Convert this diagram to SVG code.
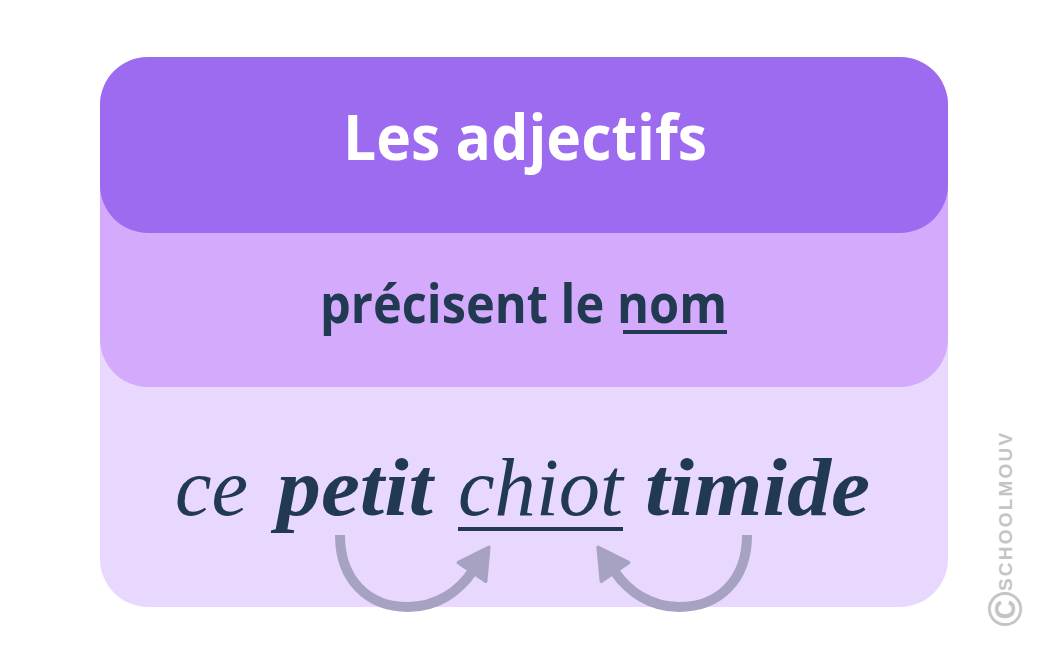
<svg xmlns="http://www.w3.org/2000/svg" width="1051" height="663" viewBox="0 0 1051 663">
<style>
.navy{fill:#213A52}
.title{font-family:"Open Sans","Liberation Sans",sans-serif;font-weight:700;font-size:62px;fill:#FFFFFF}
.sub{font-family:"Open Sans","Liberation Sans",sans-serif;font-weight:700;font-size:54px;fill:#213A52}
.script{font-family:"Liberation Serif","DejaVu Serif",serif;font-style:italic;font-size:82px;fill:#213A52}
.bold{font-weight:700}
.arrow{fill:none;stroke:#A7A2C1;stroke-width:10}
.wm{font-family:"Liberation Sans",Arial,sans-serif;font-weight:700;fill:#C4C4C4}
</style>
<defs>
<marker id="head" markerUnits="userSpaceOnUse" markerWidth="40" markerHeight="40" viewBox="-2 -18 34 36" refX="0" refY="0" orient="auto">
<path d="M0,-15 L27,0 L0,15 z" fill="#A7A2C1" stroke="#A7A2C1" stroke-width="3" stroke-linejoin="round"/>
</marker>
</defs>
<rect width="1051" height="663" fill="#FFFFFF"/>
<g id="box-bottom">
<rect x="100" y="57" width="848" height="550" rx="48" ry="48" fill="#E8D8FE"/>
</g>
<g id="box-middle">
<rect x="100" y="57" width="848" height="330" rx="48" ry="48" fill="#D4AAFC"/>
<text class="sub" x="320" y="323" textLength="407" lengthAdjust="spacingAndGlyphs">précisent le nom</text>
<rect x="623" y="330" width="104" height="4" class="navy"/>
</g>
<g id="box-top">
<rect x="100" y="57" width="848" height="176" rx="48" ry="48" fill="#9D6BF0"/>
<text class="title" x="343" y="160" textLength="364" lengthAdjust="spacingAndGlyphs">Les adjectifs</text>
</g>
<g id="example">
<text class="script" x="175" y="515" textLength="73" lengthAdjust="spacingAndGlyphs">ce</text>
<text class="script bold" x="277" y="515" textLength="156" lengthAdjust="spacingAndGlyphs">petit</text>
<text class="script" x="458" y="515" textLength="165" lengthAdjust="spacingAndGlyphs">chiot</text>
<text class="script bold" x="645" y="515" textLength="225" lengthAdjust="spacingAndGlyphs">timide</text>
<rect x="458" y="527" width="165" height="4" class="navy"/>
</g>
<g id="connectors">
<path class="arrow" d="M340,535 C340,580 368,607 408,607 C437,607 459,591 472,572" marker-end="url(#head)"/>
<path class="arrow" d="M747,535 C747,580 719,607 679,607 C650,607 628,591 615,572" marker-end="url(#head)"/>
</g>
<g id="watermark">
<text class="wm" font-size="48" font-weight="400" transform="translate(1005,609) rotate(-90)" text-anchor="middle" dominant-baseline="central">©</text>
<text class="wm" font-size="19" letter-spacing="2.2" transform="translate(1012,591) rotate(-90)">SCHOOLMOUV</text>
</g>
</svg>
